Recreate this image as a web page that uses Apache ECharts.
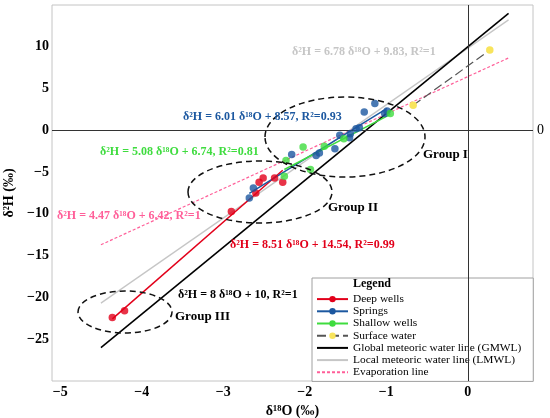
<!DOCTYPE html>
<html lang="en">
<head>
<meta charset="UTF-8">
<title>δ2H vs δ18O</title>
<style>
  * { margin: 0; padding: 0; }
  #chart { width: 550px; height: 418px; }
</style>
</head>
<body>
<div id="chart"></div>
<script src="https://cdn.jsdelivr.net/npm/echarts@6/dist/echarts.min.js"></script>
<script>
  // tick labels
  const xTicks = [-5, -4, -3, -2, -1, 0];
  const yTicks = [-25, -20, -15, -10, -5, 0, 5, 10];

  // samples [d18O, d2H]
  const deepWells = [[-4.36, -22.4], [-4.21, -21.6], [-2.90, -9.7], [-2.60, -7.5], [-2.56, -6.2],
    [-2.51, -5.7], [-2.37, -5.7], [-2.27, -6.2]];
  const springs = [[-2.68, -8.1], [-2.63, -6.9], [-2.16, -2.9], [-1.86, -3.0], [-1.82, -2.7],
    [-1.63, -2.2], [-1.57, -0.6], [-1.45, -0.9], [-1.44, -0.4], [-1.37, 0.2], [-1.33, 0.3],
    [-1.27, 2.2], [-1.14, 3.2], [-1.02, 2.0], [-0.99, 2.3]];
  const shallowWells = [[-2.25, -5.5], [-2.23, -3.6], [-2.02, -2.0], [-1.93, -4.7], [-1.76, -1.9],
    [-1.52, -1.0], [-0.95, 2.0]];
  const surfaceWater = [[-0.67, 3.0], [0.27, 9.6]];

  // fitted lines, end points
  const deepLine = [[-4.36, -22.56], [-2.27, -4.78]];
  const springLine = [[-2.68, -7.54], [-0.99, 2.62]];
  const shallowLine = [[-2.25, -4.69], [-0.95, 1.91]];
  const gmwlLine = [[-4.5, -26], [0.5, 14]];
  const lmwlLine = [[-4.5, -20.68], [0.5, 13.22]];
  const evapLine = [[-4.5, -13.7], [0.5, 8.66]];

  const FONT = "'Liberation Serif', 'DejaVu Serif', serif";
  const RED = '#e2001a', BLUE = '#1c58a0', GREEN = '#3fdc3f', YELLOW = '#f8e45c',
        PINK = '#ff5f99', GRAY = '#c6c6c6';

  const chart = echarts.init(document.getElementById('chart'));

  function note(text, x, y, color, size) {
    return {
      type: 'text', left: x, top: y - 7, z: 20, silent: true,
      style: { text: text, fill: color, font: 'bold ' + (size || 12) + 'px ' + FONT }
    };
  }
  function ring(cx, cy, rx, ry) {
    return {
      type: 'ellipse', z: 15, silent: true,
      shape: { cx: cx, cy: cy, rx: rx, ry: ry },
      style: { fill: 'none', stroke: '#111', lineWidth: 1.5, lineDash: [6, 4] }
    };
  }
  const minus = v => String(v).replace('-', '\u2212');
  const hidden = { color: 'transparent', borderWidth: 0 };

  chart.setOption({
    animation: false,
    grid: { left: 52, right: 17, top: 5, bottom: 37, outerBoundsMode: 'none', containLabel: false,
      show: true, borderColor: '#c4c4c4', borderWidth: 1 },
    xAxis: {
      type: 'value', min: -5.1, max: 0.8,
      name: 'δ\u00b9\u2078O (‰)', nameLocation: 'middle', nameGap: 19,
      nameTextStyle: { fontFamily: FONT, fontWeight: 'bold', fontSize: 14, color: '#000' },
      axisLine: { show: false, onZero: false }, axisTick: { show: false }, splitLine: { show: false },
      axisLabel: { customValues: xTicks, formatter: minus, margin: 4,
        fontFamily: FONT, fontWeight: 'bold', fontSize: 14, color: '#000' }
    },
    yAxis: [{
      type: 'value', min: -30, max: 15,
      name: 'δ\u00b2H (‰)', nameLocation: 'middle', nameGap: 32,
      nameTextStyle: { fontFamily: FONT, fontWeight: 'bold', fontSize: 14, color: '#000' },
      axisLine: { show: false, onZero: false }, axisTick: { show: false }, splitLine: { show: false },
      axisLabel: { customValues: yTicks, formatter: minus, margin: 3,
        fontFamily: FONT, fontWeight: 'bold', fontSize: 14, color: '#000' }
    }, {
      type: 'value', min: -30, max: 15, position: 'right',
      axisLine: { show: false, onZero: false }, axisTick: { show: false }, splitLine: { show: false },
      axisLabel: { customValues: [0], margin: 4, fontFamily: FONT, fontSize: 14, color: '#000' }
    }],
    legend: {
      orient: 'vertical', left: 312, top: 278,
      padding: [15, 12, 3, 4],
      itemWidth: 31, itemHeight: 8, itemGap: 0,
      backgroundColor: '#fff', borderColor: '#a0a0a0', borderWidth: 1,
      textStyle: { fontFamily: FONT, fontSize: 11.4, lineHeight: 12.2, color: '#000' },
      data: [
        'Deep wells', 'Springs', 'Shallow wells', 'Surface water',
        { name: 'Global meteoric water line (GMWL)', itemStyle: hidden },
        { name: 'Local meteoric water line (LMWL)', itemStyle: hidden },
        { name: 'Evaporation line', itemStyle: hidden }
      ]
    },
    graphic: [
      ring(345, 137, 80, 40),
      ring(260, 192, 72, 31),
      ring(125, 312, 47, 21),
      note('δ\u00b2H = 6.78 δ\u00b9\u2078O + 9.83, R\u00b2=1', 292, 53, GRAY),
      note('δ\u00b2H = 6.01 δ\u00b9\u2078O + 8.57, R\u00b2=0.93', 183, 118, BLUE),
      note('δ\u00b2H = 5.08 δ\u00b9\u2078O + 6.74, R\u00b2=0.81', 100, 153, GREEN),
      note('δ\u00b2H = 4.47 δ\u00b9\u2078O + 6.42, R\u00b2=1', 57, 217, PINK),
      note('δ\u00b2H = 8.51 δ\u00b9\u2078O + 14.54, R\u00b2=0.99', 230, 246, RED),
      note('δ\u00b2H = 8 δ\u00b9\u2078O + 10, R\u00b2=1', 178, 296, '#000'),
      note('Group I', 423, 155, '#000', 13),
      note('Group II', 328, 208, '#000', 13),
      note('Group III', 175, 317, '#000', 13),
      note('Legend', 353, 285, '#000')
    ],
    series: [
      { name: 'Global meteoric water line (GMWL)', type: 'line', data: gmwlLine, symbol: 'none', z: 3,
        lineStyle: { color: '#000', width: 1.6 }, itemStyle: { color: '#000' },
        markLine: { silent: true, symbol: 'none', label: { show: false },
          lineStyle: { color: '#333', width: 1, type: 'solid' },
          data: [{ yAxis: 0 }, { xAxis: 0 }] } },
      { name: 'Local meteoric water line (LMWL)', type: 'line', data: lmwlLine, symbol: 'none', z: 2,
        lineStyle: { color: GRAY, width: 1.3 }, itemStyle: { color: GRAY } },
      { name: 'Evaporation line', type: 'line', data: evapLine, symbol: 'none', z: 2,
        lineStyle: { color: PINK, width: 1.2, type: [3, 2] }, itemStyle: { color: PINK } },
      { name: 'Deep wells', type: 'line', data: deepLine, symbol: 'circle', showSymbol: false, z: 4,
        lineStyle: { color: RED, width: 1.5 }, itemStyle: { color: RED } },
      { name: 'Springs', type: 'line', data: springLine, symbol: 'circle', showSymbol: false, z: 4,
        lineStyle: { color: BLUE, width: 1.5 }, itemStyle: { color: BLUE } },
      { name: 'Shallow wells', type: 'line', data: shallowLine, symbol: 'circle', showSymbol: false, z: 4,
        lineStyle: { color: GREEN, width: 1.5 }, itemStyle: { color: GREEN } },
      { name: 'Surface water', type: 'line', data: surfaceWater, symbol: 'circle', symbolSize: 7.5, z: 5,
        lineStyle: { color: '#555', width: 1.2, type: [9, 4] }, itemStyle: { color: YELLOW } },
      { name: 'Deep wells', type: 'scatter', data: deepWells, symbolSize: 7.5, z: 6, itemStyle: { color: RED } },
      { name: 'Springs', type: 'scatter', data: springs, symbolSize: 7.5, z: 6, itemStyle: { color: BLUE } },
      { name: 'Shallow wells', type: 'scatter', data: shallowWells, symbolSize: 7.5, z: 6, itemStyle: { color: GREEN } }
    ]
  });
</script>
</body>
</html>
